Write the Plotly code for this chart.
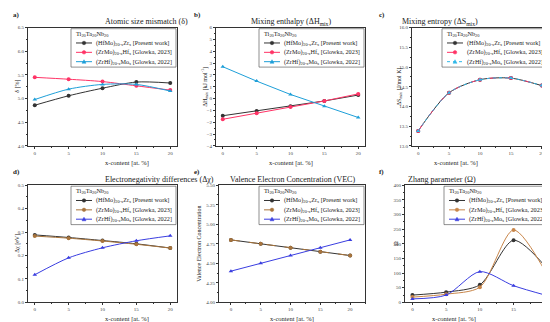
import plotly.graph_objects as go

x_content = [0, 5, 10, 15, 20]

series_names = [
    "(HfMo)<sub>20-x</sub>Zr<sub>x</sub> [Present work]",
    "(ZrMo)<sub>20-x</sub>Hf<sub>x</sub> [Glowka, 2023]",
    "(ZrHf)<sub>20-x</sub>Mo<sub>x</sub> [Glowka, 2022]",
]
legend_title = "Ti<sub>20</sub>Ta<sub>20</sub>Nb<sub>20</sub>"

# a) Atomic size mismatch
delta_present = [4.86, 5.06, 5.22, 5.35, 5.33]
delta_zrmo = [5.45, 5.41, 5.36, 5.27, 5.18]
delta_zrhf = [4.98, 5.20, 5.30, 5.30, 5.16]
# b) Mixing enthalpy
dh_present = [-1.45, -1.05, -0.65, -0.20, 0.30]
dh_zrmo = [-1.75, -1.25, -0.72, -0.20, 0.40]
dh_zrhf = [2.70, 1.48, 0.35, -0.65, -1.60]
# c) Mixing entropy
ds_present = [13.38, 14.35, 14.68, 14.72, 14.53]
ds_zrmo = [13.38, 14.35, 14.68, 14.72, 14.53]
ds_zrhf = [13.38, 14.35, 14.68, 14.72, 14.53]
# d) Electronegativity difference
chi_present = [0.288, 0.277, 0.264, 0.250, 0.232]
chi_zrmo = [0.283, 0.274, 0.262, 0.248, 0.232]
chi_zrhf = [0.118, 0.190, 0.233, 0.263, 0.284]
# e) VEC
vec_present = [4.80, 4.75, 4.70, 4.65, 4.60]
vec_zrmo = [4.80, 4.75, 4.70, 4.65, 4.60]
vec_zrhf = [4.40, 4.50, 4.60, 4.70, 4.80]
# f) Zhang parameter
om_present = [25, 35, 60, 212, 115]
om_zrmo = [18, 28, 52, 247, 93]
om_zrhf = [12, 25, 105, 57, 23]

W, H = 550, 322
FONT = "Liberation Serif"
TXT = "#222222"

panels = [
    dict(lab="a)", title="Atomic size mismatch (δ)", ytitle="δ [%]",
         data=[delta_present, delta_zrmo, delta_zrhf], yr=[4.0, 6.5], dt=0.5, fmt=".1f",
         xr=[-1, 21], px=[20, 169], py=[18, 138], labx=3,
         colors=["#333333", "#ff3366", "#1e9fd8"], dashes=["solid", "solid", "solid"], shape="spline",
         ytx=10),
    dict(lab="b)", title="Mixing enthalpy (ΔH<sub>mix</sub>)", ytitle="ΔH<sub>mix</sub> [kJ mol<sup>-1</sup>]",
         data=[dh_present, dh_zrmo, dh_zrhf], yr=[-4, 6], dt=1, fmt="d",
         xr=[-1, 21], px=[208, 357], py=[18, 138], labx=184,
         colors=["#333333", "#ff3366", "#1e9fd8"], dashes=["solid", "solid", "solid"], shape="linear",
         ytx=197),
    dict(lab="c)", title="Mixing entropy (ΔS<sub>mix</sub>)", ytitle="ΔS<sub>mix</sub> [J/mol K]",
         data=[ds_present, ds_zrmo, ds_zrhf], yr=[13.0, 16.0], dt=0.5, fmt=".1f",
         xr=[-1, 21], px=[404, 540], py=[18, 138], labx=369,
         colors=["#333333", "#ff3366", "#30b8e8"], dashes=["solid", "dash", "dot"], shape="spline",
         ytx=392),
    dict(lab="d)", title="Electronegativity differences (Δχ)", ytitle="Δχ [eV]",
         data=[chi_present, chi_zrmo, chi_zrhf], yr=[0.0, 0.5], dt=0.1, fmt=".1f",
         xr=[-1, 21], px=[20, 169], py=[178, 297], labx=3,
         colors=["#333333", "#a8743c", "#3a3ee0"], dashes=["solid", "solid", "solid"], shape="spline",
         ytx=10),
    dict(lab="e)", title="Valence Electron Concentration (VEC)", ytitle="Valence Electron Concentration",
         data=[vec_present, vec_zrmo, vec_zrhf], yr=[4.0, 5.5], dt=0.25, fmt=".2f",
         xr=[-2, 22.5], px=[211, 357], py=[178, 297], labx=184,
         colors=["#333333", "#a8743c", "#3a3ee0"], dashes=["solid", "dash", "solid"], shape="linear",
         ytx=191),
    dict(lab="f)", title="Zhang parameter (Ω)", ytitle="Ω",
         data=[om_present, om_zrmo, om_zrhf], yr=[0, 400], dt=50, fmt="d",
         xr=[-1.1, 20.4], px=[397, 542], py=[178, 297], labx=369,
         colors=["#333333", "#c8864a", "#3a3ee0"], dashes=["solid", "solid", "solid"], shape="spline",
         ytx=388),
]

symbols = ["circle", "circle", "triangle-up"]


def px_x(v):
    return v / W


def px_y(v):
    return 1 - v / H


fig = go.Figure()
layout = dict(width=W, height=H, margin=dict(l=0, r=0, t=0, b=0), showlegend=False,
              paper_bgcolor="white", plot_bgcolor="white",
              font=dict(family=FONT, color=TXT, size=6), annotations=[], shapes=[])

for i, p in enumerate(panels):
    n = i + 1
    xa = "x" if n == 1 else f"x{n}"
    ya = "y" if n == 1 else f"y{n}"
    for k in range(3):
        fig.add_trace(go.Scatter(
            x=x_content, y=p["data"][k], mode="lines+markers",
            name=series_names[k], xaxis=xa, yaxis=ya,
            line=dict(color=p["colors"][k], width=1, dash=p["dashes"][k], shape=p["shape"],
                      smoothing=0.8 if p["shape"] == "spline" else None),
            marker=dict(symbol=symbols[k], size=4, color=p["colors"][k]),
        ))
    x0, x1 = p["px"]
    y0, y1 = p["py"]
    axis_common = dict(showline=True, linecolor="#333333", linewidth=0.8, mirror=True,
                       ticks="outside", ticklen=2, tickwidth=0.6, tickcolor="#333333",
                       showgrid=False, zeroline=False,
                       tickfont=dict(size=5, family=FONT, color="#444444"))
    layout["xaxis" if n == 1 else f"xaxis{n}"] = dict(
        domain=[x0 / W, x1 / W], range=p["xr"], anchor=ya, tickmode="array", tickvals=x_content,
        minor=dict(ticks="outside", ticklen=1.2, tickwidth=0.5, tickcolor="#333333",
                   tickmode="array", tickvals=[-2.5, 2.5, 7.5, 12.5, 17.5, 22.5]),
        **axis_common)
    layout["yaxis" if n == 1 else f"yaxis{n}"] = dict(
        domain=[1 - y1 / H, 1 - y0 / H], range=p["yr"], anchor=xa, dtick=p["dt"], tick0=p["yr"][0],
        tickformat=p["fmt"],
        minor=dict(ticks="outside", ticklen=1.2, tickwidth=0.5, tickcolor="#333333",
                   dtick=p["dt"] / 2, tick0=p["yr"][0]),
        **axis_common)

    # manual legend (box, title, three entries)
    lx1 = x1 - 1
    lx0 = lx1 - 105
    ly0 = y0 + 1
    ly1 = y0 + 40
    layout["shapes"].append(dict(type="rect", xref="paper", yref="paper",
                                 x0=px_x(lx0), x1=px_x(lx1), y0=px_y(ly1), y1=px_y(ly0),
                                 line=dict(color="#444444", width=0.6), fillcolor="white", layer="above"))
    layout["annotations"].append(dict(
        text=legend_title, x=px_x(lx0 + 3), y=px_y(ly0 + 5), xref="paper", yref="paper",
        xanchor="left", yanchor="middle", showarrow=False, font=dict(size=6.3, family=FONT, color=TXT)))
    for k in range(3):
        yy = ly0 + 14.5 + 9.5 * k
        c = p["colors"][k]
        layout["shapes"].append(dict(type="line", xref="paper", yref="paper",
                                     x0=px_x(lx0 + 5), x1=px_x(lx0 + 21), y0=px_y(yy), y1=px_y(yy),
                                     line=dict(color=c, width=1, dash=p["dashes"][k]), layer="above"))
        cx = lx0 + 13
        if symbols[k] == "circle":
            layout["shapes"].append(dict(type="circle", xref="paper", yref="paper",
                                         x0=px_x(cx - 1.8), x1=px_x(cx + 1.8),
                                         y0=px_y(yy + 1.8), y1=px_y(yy - 1.8),
                                         line=dict(color=c, width=0.5), fillcolor=c, layer="above"))
        else:
            path = "M {} {} L {} {} L {} {} Z".format(
                px_x(cx - 2), px_y(yy + 1.6), px_x(cx + 2), px_y(yy + 1.6), px_x(cx), px_y(yy - 2))
            layout["shapes"].append(dict(type="path", xref="paper", yref="paper", path=path,
                                         line=dict(color=c, width=0.5), fillcolor=c, layer="above"))
        layout["annotations"].append(dict(
            text=series_names[k], x=px_x(lx0 + 23), y=px_y(yy), xref="paper", yref="paper",
            xanchor="left", yanchor="middle", showarrow=False,
            font=dict(size=6.2, family=FONT, color=TXT)))

    # panel title
    layout["annotations"].append(dict(
        text=p["title"], x=(x0 + x1) / 2 / W, y=px_y(y0 - 6), xref="paper", yref="paper",
        showarrow=False, font=dict(size=8, family=FONT, color=TXT), yanchor="middle"))
    # panel label
    layout["annotations"].append(dict(
        text="<b>" + p["lab"] + "</b>", x=px_x(p["labx"]), y=px_y(y0 - 13),
        xref="paper", yref="paper", xanchor="left", yanchor="middle",
        showarrow=False, font=dict(size=7, family=FONT, color=TXT)))
    # x axis title
    layout["annotations"].append(dict(
        text="x-content [at. %]", x=(x0 + x1) / 2 / W, y=px_y(y1 + 17), xref="paper", yref="paper",
        showarrow=False, font=dict(size=6.5, family=FONT, color=TXT), yanchor="middle"))
    # y axis title
    layout["annotations"].append(dict(
        text=p["ytitle"], x=p["ytx"] / W, y=px_y((y0 + y1) / 2), xref="paper", yref="paper",
        textangle=-90, showarrow=False, font=dict(size=6, family=FONT, color=TXT),
        xanchor="center", yanchor="middle"))

fig.update_layout(**layout)
fig.write_html("out.html")
